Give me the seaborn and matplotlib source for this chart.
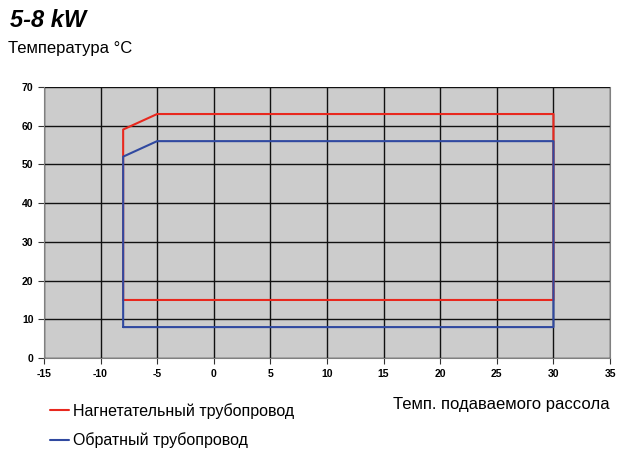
import matplotlib
matplotlib.use("Agg")
from matplotlib import pyplot as plt
import pandas as pd
import seaborn as sns

# outline of the operating envelope, supply and return lines
supply_x = [-8, -8, -5, 30, 30, -8]
supply_y = [15, 59, 63, 63, 15, 15]
return_x = [-8, -8, -5, 30, 30, -8]
return_y = [8, 52, 56, 56, 8, 8]
labels = ["Нагнетательный трубопровод", "Обратный трубопровод"]

df = pd.concat([
    pd.DataFrame({"x": supply_x, "y": supply_y, "line": labels[0], "order": range(len(supply_x))}),
    pd.DataFrame({"x": return_x, "y": return_y, "line": labels[1], "order": range(len(return_x))}),
])

sns.set_style("white")
plt.rcParams["font.family"] = ["Liberation Sans", "DejaVu Sans"]
plt.rcParams["axes.unicode_minus"] = False
plt.rcParams["text.color"] = "black"
plt.rcParams["xtick.color"] = "black"
plt.rcParams["ytick.color"] = "black"

fig = plt.figure(figsize=(6.27, 4.55), dpi=100)
ax = fig.add_axes([0.070, 0.213, 0.903, 0.596])
ax.set_facecolor("#cccccc")

sns.lineplot(data=df, x="x", y="y", hue="line", units="line", estimator=None, sort=False,
             palette={labels[0]: "#e8281e", labels[1]: "#3049a0"}, linewidth=1.5, ax=ax)

ax.set_xlim(-15, 35)
ax.set_ylim(0, 70)
ax.set_xticks(range(-15, 36, 5))
ax.set_yticks(range(0, 71, 10))
ax.grid(True, color="#111111", linewidth=1.0)
ax.set_axisbelow(True)
for s in ["left", "bottom", "right"]:
    ax.spines[s].set_color("#808080")
ax.spines["top"].set_visible(False)
ax.tick_params(axis="both", labelsize=7.5, length=4, color="#333333", direction="out",
               bottom=True, left=True)
for t in ax.get_xticklabels() + ax.get_yticklabels():
    t.set_fontweight("semibold")
ax.set_xlabel("")
ax.set_ylabel("")

h, l = ax.get_legend_handles_labels()
ax.legend(h, l, loc="upper left", bbox_to_anchor=(0.070, 0.128), bbox_transform=fig.transFigure,
          frameon=False, fontsize=11.5, handlelength=1.2, handletextpad=0.25, labelspacing=0.85,
          borderaxespad=0)

fig.text(0.016, 0.955, "5-8 kW", fontsize=17, fontweight="bold", fontstyle="italic", va="center")
fig.text(0.013, 0.893, "Температура °C", fontsize=12, va="center")
fig.text(0.973, 0.112, "Темп. подаваемого рассола", fontsize=12, ha="right", va="center")

fig.savefig("out.png", dpi=100)
